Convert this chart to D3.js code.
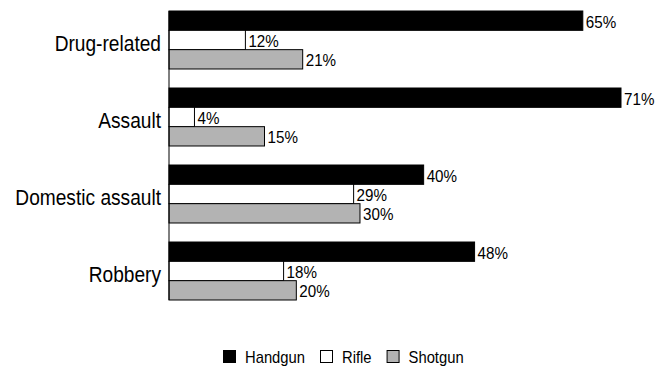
<!DOCTYPE html>
<html>
<head>
<meta charset="utf-8">
<script src="https://cdn.jsdelivr.net/npm/d3@7"></script>
<style>
  body { margin: 0; background: #fff; }
  svg { display: block; }
  text { font-family: "Liberation Sans", Arial, sans-serif; fill: #000; }
</style>
</head>
<body>
<svg id="chart" width="668" height="368"></svg>
<script>
// data
let categories = ["Drug-related", "Assault", "Domestic assault", "Robbery"];
let seriesNames = ["Handgun", "Rifle", "Shotgun"];
let handgun = [65, 71, 40, 48];
let rifle = [12, 4, 29, 18];
let shotgun = [21, 15, 30, 20];

let seriesValues = [handgun, rifle, shotgun];
let colors = ["#000000", "#ffffff", "#b3b3b3"];

main();

//------------------------------------------------------------------------------
//Main
//------------------------------------------------------------------------------
function main()
{
    var svg = d3.select("#chart");
    var left = 169;
    var squeeze = 0.87; // the original font is a condensed sans

    var x = d3.scaleLinear().domain([0, 71]).range([left, 621]);

    var y = d3.scaleBand()
              .domain(categories)
              .range([11, 300])
              .paddingInner(0.247)
              .paddingOuter(0);

    var ySub = d3.scaleBand()
                 .domain(seriesNames)
                 .range([0, y.bandwidth()]);

    var groups = svg.selectAll("g.group")
                    .data(categories)
                    .enter()
                    .append("g")
                    .attr("class", "group")
                    .attr("transform", d => "translate(0," + y(d) + ")");

    // category labels
    groups.append("text")
          .attr("transform", "translate(" + (left - 8) + "," + (y.bandwidth() / 2 + 11) + ") scale(" + squeeze + ",1)")
          .attr("text-anchor", "end")
          .style("font-size", "22px")
          .text(d => d);

    groups.each(function(cat, ci) {
        var g = d3.select(this);
        seriesNames.forEach(function(s, si) {
            var v = seriesValues[si][ci];
            g.append("rect")
             .attr("x", x(0))
             .attr("y", ySub(s))
             .attr("width", x(v) - x(0))
             .attr("height", ySub.bandwidth())
             .attr("fill", colors[si])
             .attr("stroke", "#000")
             .attr("stroke-width", 1);

            g.append("text")
             .attr("transform", "translate(" + (x(v) + 3) + "," + (ySub(s) + ySub.bandwidth() / 2 + 7) + ") scale(0.95,1)")
             .style("font-size", "16px")
             .text(v + "%");
        });
    });

    // axis line
    svg.append("line")
       .attr("x1", x(0)).attr("x2", x(0))
       .attr("y1", y.range()[0]).attr("y2", y(categories[3]) + y.bandwidth())
       .attr("stroke", "#000");

    // legend
    var legend = svg.append("g").attr("transform", "translate(0,357)");
    var lx = 223;
    seriesNames.forEach(function(s, i) {
        legend.append("rect")
              .attr("x", lx + 0.5).attr("y", -6.5)
              .attr("width", 12).attr("height", 12)
              .attr("fill", colors[i])
              .attr("stroke", "#000");
        var t = legend.append("text")
              .attr("transform", "translate(" + (lx + 22) + ",6) scale(" + squeeze + ",1)")
              .style("font-size", "17px")
              .text(s);
        lx += 22 + t.node().getComputedTextLength() * squeeze + 15;
    });
}
</script>
</body>
</html>
